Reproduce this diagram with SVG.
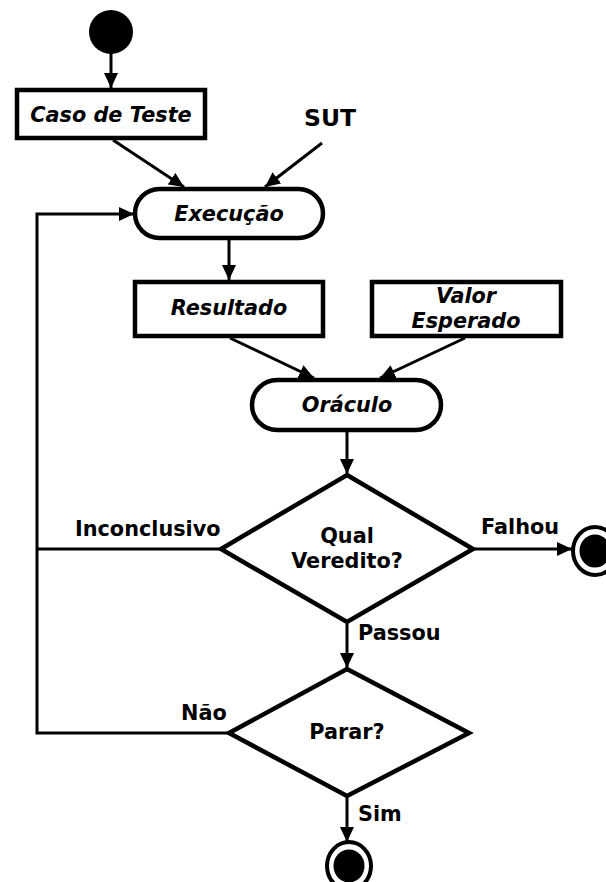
<svg xmlns="http://www.w3.org/2000/svg" width="606" height="882" viewBox="0 0 606 882">
  <style>
    .box { fill: #fff; stroke: #000; stroke-width: 4.5; }
    .edge { fill: none; stroke: #000; stroke-width: 3; }
    .node-text { font-family: "DejaVu Sans", "Liberation Sans", sans-serif; font-weight: bold; font-style: italic; font-size: 20.8px; text-anchor: middle; fill: #000; }
    .plain { font-family: "DejaVu Sans", "Liberation Sans", sans-serif; font-weight: bold; font-size: 20.8px; fill: #000; }
    .mid { text-anchor: middle; }
  </style>
  <defs>
    <marker id="arrow" markerUnits="userSpaceOnUse" markerWidth="16" markerHeight="14" refX="15" refY="7" orient="auto">
      <path d="M0,0 L15,7 L0,14 Z" fill="#000"/>
    </marker>
  </defs>

  <!-- connectors -->
  <g id="connectors">
    <line class="edge" x1="111" y1="53" x2="111" y2="88" marker-end="url(#arrow)"/>
    <line class="edge" x1="113" y1="140" x2="184" y2="187" marker-end="url(#arrow)"/>
    <line class="edge" x1="322" y1="143" x2="265" y2="187" marker-end="url(#arrow)"/>
    <line class="edge" x1="229" y1="240" x2="229" y2="280" marker-end="url(#arrow)"/>
    <line class="edge" x1="230" y1="338" x2="314" y2="378" marker-end="url(#arrow)"/>
    <line class="edge" x1="465" y1="338" x2="380" y2="378" marker-end="url(#arrow)"/>
    <line class="edge" x1="347" y1="432" x2="347" y2="474" marker-end="url(#arrow)"/>
    <line class="edge" x1="474" y1="549" x2="572" y2="549" marker-end="url(#arrow)"/>
    <line class="edge" x1="347" y1="623" x2="347" y2="668" marker-end="url(#arrow)"/>
    <line class="edge" x1="347" y1="797" x2="347" y2="842" marker-end="url(#arrow)"/>
    <line class="edge" x1="221" y1="549" x2="37" y2="549"/>
    <path class="edge" d="M229,733 H37 V214 H134" marker-end="url(#arrow)"/>
    <text class="plain" x="75" y="536">Inconclusivo</text>
    <text class="plain" x="481" y="534">Falhou</text>
    <text class="plain" x="358" y="640">Passou</text>
    <text class="plain" x="181" y="720">Não</text>
    <text class="plain" x="358" y="821">Sim</text>
  </g>

  <g id="start">
    <circle cx="111" cy="32" r="22" fill="#000"/>
  </g>

  <g id="caso-de-teste">
    <rect class="box" x="17" y="90" width="188" height="48"/>
    <text class="node-text" x="111" y="122">Caso de Teste</text>
  </g>

  <g id="sut">
    <text class="plain mid" x="330" y="126" style="font-size:23.5px">SUT</text>
  </g>

  <g id="execucao">
    <rect class="box" x="135" y="189" width="188" height="49" rx="24.5"/>
    <text class="node-text" x="229" y="221">Execução</text>
  </g>

  <g id="resultado">
    <rect class="box" x="135" y="282" width="188" height="54"/>
    <text class="node-text" x="229" y="315">Resultado</text>
  </g>

  <g id="valor-esperado">
    <rect class="box" x="372" y="282" width="189" height="54"/>
    <text class="node-text" x="466" y="303">Valor</text>
    <text class="node-text" x="466" y="328">Esperado</text>
  </g>

  <g id="oraculo">
    <rect class="box" x="252" y="380" width="189" height="50" rx="25"/>
    <text class="node-text" x="347" y="412">Oráculo</text>
  </g>

  <g id="qual-veredito">
    <polygon class="box" points="347,475 473,549 347,622 221,549"/>
    <text class="plain mid" x="347" y="543">Qual</text>
    <text class="plain mid" x="347" y="568">Veredito?</text>
  </g>

  <g id="parar">
    <polygon class="box" points="347,669 469,733 347,796 229,733"/>
    <text class="plain mid" x="347" y="739">Parar?</text>
  </g>

  <g id="fim-falhou">
    <ellipse cx="595" cy="551" rx="22" ry="24" fill="#fff" stroke="#000" stroke-width="4"/>
    <ellipse cx="595" cy="551" rx="15.5" ry="16.5" fill="#000"/>
  </g>

  <g id="fim">
    <ellipse cx="349" cy="866" rx="22" ry="24" fill="#fff" stroke="#000" stroke-width="4"/>
    <ellipse cx="349" cy="866" rx="15.5" ry="16.5" fill="#000"/>
  </g>
</svg>
